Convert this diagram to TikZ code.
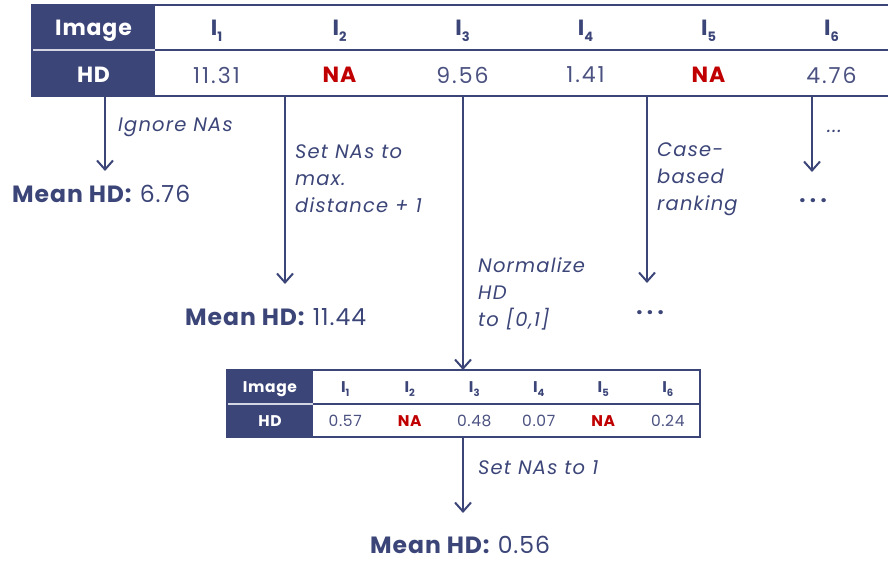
\documentclass[tikz,border=0pt]{standalone}
\usepackage{fontspec}
\setmainfont{Poppins}[Numbers=Monospaced, LetterSpace=4]
\usetikzlibrary{arrows.meta}
\definecolor{navy}{HTML}{3C4578}
\definecolor{valtxt}{HTML}{4B5281}
\definecolor{nared}{HTML}{C00000}
\definecolor{sepline}{HTML}{D4D7E3}
\newcommand{\subA}[1]{\raisebox{-0.28em}{\fontsize{13}{13}\selectfont #1}}
\newcommand{\subB}[1]{\raisebox{-0.28em}{\fontsize{10}{10}\selectfont #1}}
\tikzset{
  tabline/.style={draw=navy, line width=2pt},
  sepw/.style={draw=sepline, line width=1.5pt},
  hdA/.style={inner sep=0pt, text=white, font=\fontsize{22}{24}\selectfont\bfseries},
  colA/.style={inner sep=0pt, text=navy, font=\fontsize{22}{24}\selectfont\bfseries},
  valA/.style={inner sep=0pt, text=valtxt, font=\fontsize{22}{24}\selectfont\addfontfeatures{LetterSpace=9}},
  naA/.style={inner sep=0pt, text=nared, font=\fontsize{22}{24}\selectfont\bfseries},
  hdB/.style={inner sep=0pt, text=white, font=\fontsize{15.5}{16}\selectfont\bfseries},
  colB/.style={inner sep=0pt, text=navy, font=\fontsize{15.5}{16}\selectfont\bfseries},
  valB/.style={inner sep=0pt, text=valtxt, font=\fontsize{15.5}{16}\selectfont},
  naB/.style={inner sep=0pt, text=nared, font=\fontsize{15.5}{16}\selectfont\bfseries},
  lbl/.style={inner sep=0pt, anchor=west, align=left, text=navy, font=\fontsize{19.5}{27}\selectfont\itshape\addfontfeatures{LetterSpace=6}},
  res/.style={inner sep=0pt, anchor=west, text=navy, font=\fontsize{23.5}{26}\selectfont},
  dots/.style={inner sep=0pt, text=navy, font=\fontsize{22}{24}\selectfont\bfseries\addfontfeatures{LetterSpace=20}},
  flow/.style={draw=navy, line width=2pt, -{Straight Barb[length=9pt,width=16pt,line width=2pt]}},
}
\begin{document}
\begin{tikzpicture}[x=1pt,y=-1pt]
\useasboundingbox (0,0) rectangle (888,561);
\begin{scope}
\clip (0,0) rectangle (888,561);
% ---------- top table
\fill[navy] (32,5) rectangle (155,96);
\draw[tabline] (32,5) rectangle (893,96);
\draw[tabline] (155,50) -- (893,50);
\draw[sepw] (33,50) -- (155,50);
\node[hdA] (t1h) at (93.5,31) {Image};
\node[hdA] (t1v) at (93.5,75) {HD};
\node[colA] (c1) at (216.5,31) {I\subA{1}};
\node[colA] (c2) at (339.5,31) {I\subA{2}};
\node[colA] (c3) at (462.5,31) {I\subA{3}};
\node[colA] (c4) at (585.5,31) {I\subA{4}};
\node[colA] (c5) at (708.5,31) {I\subA{5}};
\node[colA] (c6) at (831.5,31) {I\subA{6}};
\node[valA] (v1) at (216.5,75) {11.31};
\node[naA]  (v2) at (339.5,75) {NA};
\node[valA] (v3) at (462.5,75) {9.56};
\node[valA] (v4) at (585.5,75) {1.41};
\node[naA]  (v5) at (708.5,75) {NA};
\node[valA] (v6) at (831.5,75) {4.76};
\end{scope}
% ---------- bottom table
\fill[navy] (227,370) rectangle (313,437);
\draw[navy, line width=1.6pt] (227,370) rectangle (700,437);
\draw[navy, line width=1.6pt] (313,404) -- (700,404);
\draw[sepline, line width=1.2pt] (228,404) -- (313,404);
\node[hdB] (t2h) at (270,389) {Image};
\node[hdB] (t2v) at (270,421) {HD};
\node[colB] (d1) at (345.25,389) {I\subB{1}};
\node[colB] (d2) at (409.75,389) {I\subB{2}};
\node[colB] (d3) at (474.25,389) {I\subB{3}};
\node[colB] (d4) at (538.75,389) {I\subB{4}};
\node[colB] (d5) at (603.25,389) {I\subB{5}};
\node[colB] (d6) at (667.75,389) {I\subB{6}};
\node[valB] (w1) at (345.25,421) {0.57};
\node[naB]  (w2) at (409.75,421) {NA};
\node[valB] (w3) at (474.25,421) {0.48};
\node[valB] (w4) at (538.75,421) {0.07};
\node[naB]  (w5) at (603.25,421) {NA};
\node[valB] (w6) at (667.75,421) {0.24};
% ---------- connector anchors
\coordinate (s1) at (105,96);  \coordinate (e1) at (105,171);
\coordinate (s2) at (285,96);  \coordinate (e2) at (285,284);
\coordinate (s3) at (463,96);  \coordinate (e3) at (463,370);
\coordinate (s4) at (647,96);  \coordinate (e4) at (647,283);
\coordinate (s5) at (812,96);  \coordinate (e5) at (812,172);
\coordinate (s6) at (463,437); \coordinate (e6) at (463,513);
\draw[flow] (s1) -- (e1);
\draw[flow] (s2) -- (e2);
\draw[flow] (s3) -- (e3);
\draw[flow] (s4) -- (e4);
\draw[flow] (s5) -- (e5);
\draw[flow] (s6) -- (e6);
% ---------- labels
\node[lbl] (l1) at (118,127) {Ignore NAs};
\node[lbl] (l2) at (295,179) {Set NAs to\\max.\\distance + 1};
\node[lbl] (l3) at (478,294) {Normalize\\HD\\to [0,1]};
\node[lbl] (l4) at (657,179) {Case-\\based\\ranking};
\node[lbl] (l5) at (827,131) {...};
\node[lbl] (l6) at (478,468) {Set NAs to 1};
% ---------- results
\node[res] (r1) at (12,194) {\textbf{Mean HD:} 6.76};
\node[res] (r2) at (185,317) {\textbf{Mean HD:} 11.44};
\node[res] (r3) at (370,545) {\textbf{Mean HD:} 0.56};
\node[dots] (r4) at (650,313) {...};
\node[dots] (r5) at (813,201) {...};
\end{tikzpicture}
\end{document}
